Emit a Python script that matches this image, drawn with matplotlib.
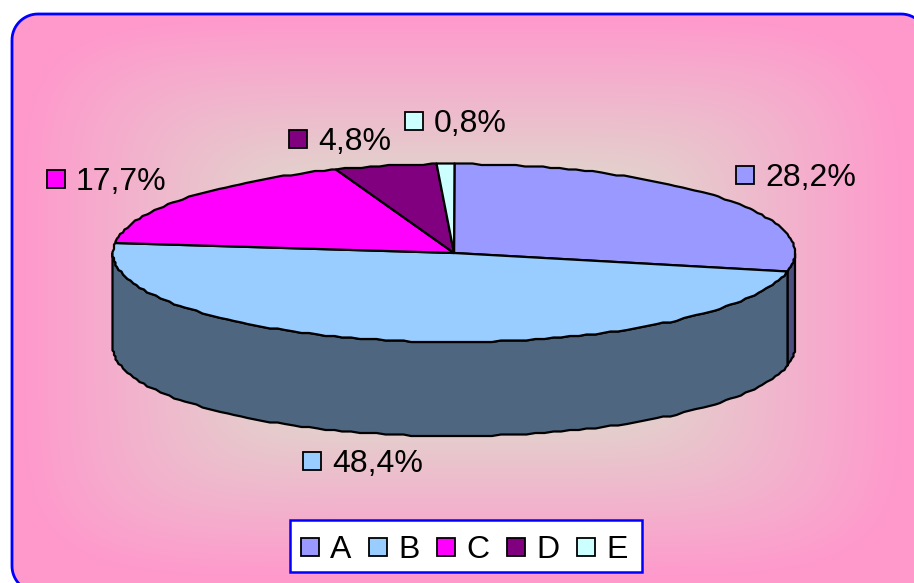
import numpy as np
import matplotlib
matplotlib.use("Agg")
import matplotlib.pyplot as plt
from matplotlib.colors import to_rgb
from matplotlib.patches import Polygon, Rectangle

plt.rcParams['font.family'] = ['Liberation Sans', 'DejaVu Sans']

# Chart data
categories = ["A", "B", "C", "D", "E"]
shares = [28.2, 48.4, 17.7, 4.8, 0.8]
top_colors = ["#9999FF", "#99CCFF", "#FF00FF", "#800080", "#CCFFFF"]
wall_colors = ["#4D4D80", "#4F6680", "#800080", "#400040", "#668080"]

# Pie geometry, in pixels
CX, CY = 454, 253
RX, RY = 341, 89
DEPTH = 94
GRID = 1.5
STEP = 1.5


def ellipse(t):
    """ Points on the pie rim, t in degrees clockwise from the top """
    t = np.radians(t)
    x = CX + RX * np.sin(t)
    y = CY - RY * np.cos(t)
    # Snap to a grid so the rim keeps its slightly jagged look
    return np.round(x / GRID) * GRID, np.round(y / GRID) * GRID


def rounded_panel(x0, y0, x1, y1, r):
    """ Vertices of a rounded rectangle """
    a = np.radians(np.arange(0, 91, 5))
    xs = np.r_[x0 + r - r * np.cos(a), x1 - r + r * np.sin(a),
               x1 - r + r * np.cos(a), x0 + r - r * np.sin(a)]
    ys = np.r_[y0 + r - r * np.sin(a), y0 + r - r * np.cos(a),
               y1 - r + r * np.sin(a), y1 - r + r * np.cos(a)]
    return np.c_[xs, ys]


fig = plt.figure(figsize=(9.14, 5.83), dpi=100)
ax = fig.add_axes([0, 0, 1, 1])

# Panel with a soft-cornered gradient from the centre out to pink
panel = Polygon(rounded_panel(12, 14, 927, 592, 26), closed=True, facecolor="none",
                edgecolor="#0000FF", linewidth=2.0, zorder=3)
xx, yy = np.meshgrid(np.arange(914) + 0.5, np.arange(583) + 0.5)
dist = ((np.abs(xx - 462) / 440) ** 6 + (np.abs(yy - 298) / 280) ** 6) ** (1 / 6)
t = np.clip(dist, 0, 1)[..., None]
inner, outer = np.array(to_rgb("#CCFFCC")), np.array(to_rgb("#FF99CC"))
gradient = inner + (outer - inner) * t
img = ax.imshow(gradient, extent=(0, 914, 583, 0), aspect="auto", zorder=1)
ax.add_patch(panel)
img.set_clip_path(panel)
ax.set_xlim(0, 914)
ax.set_ylim(583, 0)
ax.axis("off")

# Slice boundaries, clockwise from the top
fractions = np.array(shares) / sum(shares)
edges = np.concatenate([[0], np.cumsum(fractions)]) * 360

# Walls for the front half of the rim
for i in range(len(shares)):
    lo, hi = max(edges[i], 90), min(edges[i + 1], 270)
    if lo >= hi:
        continue
    x, y = ellipse(np.r_[np.arange(lo, hi, STEP), hi])
    ax.fill(np.r_[x, x[::-1]], np.r_[y, y[::-1] + DEPTH], facecolor=wall_colors[i],
            edgecolor="black", linewidth=1.6, joinstyle="round", zorder=4)

# Top faces
for i in range(len(shares)):
    x, y = ellipse(np.r_[np.arange(edges[i], edges[i + 1], STEP), edges[i + 1]])
    ax.fill(np.r_[CX, x], np.r_[CY, y], facecolor=top_colors[i],
            edgecolor="black", linewidth=1.6, joinstyle="round", zorder=5)

# Data labels with their colour keys
label_x = [736, 303, 47, 289, 405]
label_y = [175, 461, 179, 139, 121]
for i, share in enumerate(shares):
    ax.add_patch(Rectangle((label_x[i], label_y[i] - 9), 18, 18, facecolor=top_colors[i],
                           edgecolor="black", linewidth=1.3, zorder=6))
    ax.text(label_x[i] + 29, label_y[i], f"{share:.1f}%".replace(".", ","),
            fontsize=23, va="center_baseline", ha="left", color="black", zorder=6)

# Legend box
ax.add_patch(Rectangle((290, 520), 352, 52, facecolor="white", edgecolor="#0000FF",
                       linewidth=1.8, zorder=6))
legend_x = [301, 369, 437, 507, 577]
for i, name in enumerate(categories):
    ax.add_patch(Rectangle((legend_x[i], 538), 18, 18, facecolor=top_colors[i],
                           edgecolor="black", linewidth=1.3, zorder=7))
    ax.text(legend_x[i] + 29, 547, name, fontsize=23, va="center_baseline", ha="left",
            color="black", zorder=7)

fig.savefig("out.png", dpi=100)
